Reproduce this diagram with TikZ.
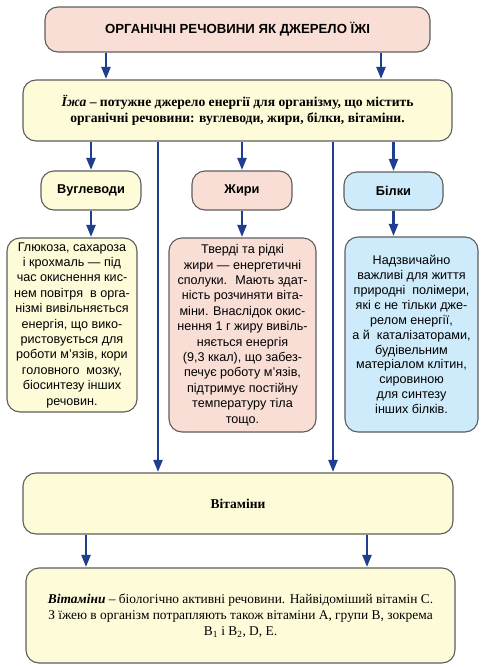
\documentclass[tikz,border=0pt]{standalone}
\usepackage{fontspec}
\setmainfont{Liberation Serif}
\setsansfont{Liberation Sans}
\usetikzlibrary{arrows.meta}
\definecolor{pinkf}{HTML}{F9DED6}
\definecolor{yelf}{HTML}{FEFBD9}
\definecolor{bluef}{HTML}{CDEBFA}
\definecolor{bord}{HTML}{5E5E5E}
\definecolor{arrc}{HTML}{1F3F8E}
\begin{document}
\begin{tikzpicture}[x=1pt,y=-1pt,
  box/.style={draw=bord,line width=1.1pt,rounded corners=13pt,inner sep=0pt,align=center},
  arr/.style={draw=arrc,line width=2.2pt,-{Triangle[length=12pt,width=9pt]},shorten >=0.5pt},
  catlbl/.style={font=\sffamily\bfseries\fontsize{12.8}{14}\selectfont},
  desc/.style={font=\sffamily\fontsize{12.6}{15.4}\selectfont}]
\useasboundingbox[fill=white] (0,0) rectangle (483,667);
\node[box,fill=pinkf,minimum width=385pt,minimum height=45pt,font=\sffamily\bfseries\fontsize{13.2}{14}\selectfont] (top) at (237.5,29.5) {ОРГАНІЧНІ РЕЧОВИНИ ЯК ДЖЕРЕЛО ЇЖІ};
\node[box,fill=yelf,minimum width=429pt,minimum height=61pt,font=\bfseries\fontsize{13.6}{15.5}\selectfont] (food) at (237.5,110.5) {\textit{Їжа} – потужне джерело енергії для організму, що містить\\органічні речовини: вуглеводи, жири, білки, вітаміни.};
\node[box,fill=yelf,minimum width=100pt,minimum height=39pt,catlbl] (c1) at (91,190.5) {Вуглеводи};
\node[box,fill=pinkf,minimum width=100pt,minimum height=39pt,catlbl] (c2) at (242,190.5) {Жири};
\node[box,fill=bluef,minimum width=99pt,minimum height=38pt,catlbl] (c3) at (393.5,191) {Білки};
\node[box,fill=yelf,minimum width=130pt,minimum height=174pt,desc] (d1) at (72,325) {Глюкоза, сахароза\\і крохмаль — під\\час окиснення кис-\\нем повітря \ в орга-\\нізмі вивільняється\\енергія, що вико-\\ристовується для\\роботи м’язів, кори\\головного \ мозку,\\біосинтезу інших\\речовин.};
\node[box,fill=pinkf,minimum width=147pt,minimum height=194pt,desc] (d2) at (242.5,335) {Тверді та рідкі\\жири — енергетичні\\сполуки. \ Мають здат-\\ність розчиняти віта-\\міни. Внаслідок окис-\\нення 1 г жиру вивіль-\\няється енергія\\(9,3 ккал), що забез-\\печує роботу м’язів,\\підтримує постійну\\температуру тіла\\тощо.};
\node[box,fill=bluef,minimum width=133pt,minimum height=195pt,font=\sffamily\fontsize{12.6}{14.9}\selectfont] (d3) at (411.5,334.5) {Надзвичайно\\важливі для життя\\природні \ полімери,\\які є не тільки дже-\\релом енергії,\\а й \ каталізаторами,\\будівельним\\матеріалом клітин,\\сировиною\\для синтезу\\інших білків.};
\node[box,fill=yelf,minimum width=430pt,minimum height=61pt,font=\bfseries\fontsize{13.5}{15}\selectfont] (vit) at (238,503.5) {Вітаміни};
\node[box,fill=yelf,minimum width=429pt,minimum height=95pt,font=\fontsize{13.4}{16.2}\selectfont] (bot) at (240.5,615.5) {\textbf{\textit{Вітаміни}} – біологічно активні речовини. Найвідоміший вітамін С.\\З їжею в організм потрапляють також вітаміни А, групи В, зокрема\\B\textsubscript{1} і B\textsubscript{2}, D, E.};
\coordinate (A1) at (106,0);
\coordinate (A2) at (381,0);
\coordinate (L1) at (158,0);
\coordinate (L2) at (333,0);
\coordinate (B1) at (86,0);
\coordinate (B2) at (367,0);
\draw[arr] (A1 |- top.south) -- (A1 |- food.north);
\draw[arr] (A2 |- top.south) -- (A2 |- food.north);
\draw[arr] (c1.north |- food.south) -- (c1.north);
\draw[arr] (c2.north |- food.south) -- (c2.north);
\draw[arr] (c3.north |- food.south) -- (c3.north);
\draw[arr] (c1.south) -- (c1.south |- d1.north);
\draw[arr] (c2.south) -- (c2.south |- d2.north);
\draw[arr] (c3.south) -- (c3.south |- d3.north);
\draw[arr] (L1 |- food.south) -- (L1 |- vit.north);
\draw[arr] (L2 |- food.south) -- (L2 |- vit.north);
\draw[arr] (B1 |- vit.south) -- (B1 |- bot.north);
\draw[arr] (B2 |- vit.south) -- (B2 |- bot.north);
\end{tikzpicture}
\end{document}
